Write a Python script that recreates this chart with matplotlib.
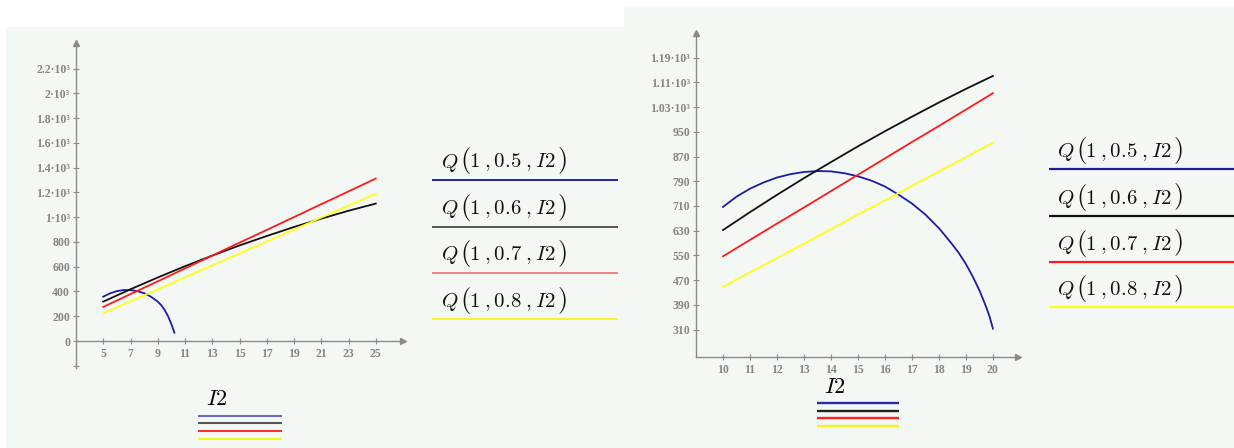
import matplotlib.pyplot as plt
import numpy as np
from matplotlib.patches import Rectangle

plt.rcParams['mathtext.fontset'] = 'cm'

W, H = 1234, 448

# left plot values
left_x = [5, 7, 9, 11, 13, 15, 17, 19, 21, 23, 25]
left_q06 = [318, 418, 513, 604, 690, 772, 848, 921, 988, 1052, 1110]
left_q07 = [275, 379, 482, 586, 690, 794, 897, 1001, 1105, 1208, 1312]
left_q08 = [224, 321, 417, 514, 610, 707, 804, 900, 997, 1093, 1190]
left_q05_x = [5.0, 5.5, 6.0, 6.5, 7.0, 7.5, 8.0, 8.5, 9.0, 9.25, 9.5, 9.75, 9.9, 10.05, 10.22]
left_q05 = [358, 385, 403, 412, 411, 403, 386, 358, 318, 290, 252, 202, 163, 122, 67]
left_yticks = [0, 200, 400, 600, 800, 1000, 1200, 1400, 1600, 1800, 2000, 2200]
left_ylabels = ['0', '200', '400', '600', '800', '1·10³', '1.2·10³', '1.4·10³',
                '1.6·10³', '1.8·10³', '2·10³', '2.2·10³']

# right plot values
right_x = [10, 11, 12, 13, 14, 15, 16, 17, 18, 19, 20]
right_q06 = [632, 690, 746, 800, 852, 903, 952, 999, 1045, 1089, 1131]
right_q07 = [547, 600, 653, 705, 758, 811, 864, 917, 969, 1022, 1075]
right_q08 = [448, 495, 541, 588, 635, 682, 728, 775, 822, 868, 915]
right_q05_x = [10, 10.5, 11, 11.5, 12, 12.5, 13, 13.5, 14, 14.5, 15, 15.5, 16,
               16.5, 17, 17.5, 18, 18.25, 18.5, 18.75, 19, 19.25, 19.5, 19.75, 19.88, 20]
right_q05 = [707, 740, 766, 786, 802, 813, 820, 823, 822, 816, 806, 792, 773,
             747, 718, 682, 638, 612, 585, 556, 522, 482, 437, 383, 351, 313]
right_yticks = [310, 390, 470, 550, 630, 710, 790, 870, 950, 1030, 1110, 1190]
right_ylabels = ['310', '390', '470', '550', '630', '710', '790', '870', '950',
                 '1.03·10³', '1.11·10³', '1.19·10³']

params = ['0.5', '0.6', '0.7', '0.8']
colors = ['#1c1ca4', '#111111', '#ff1a1a', '#ffff14']

axis_col = '#8a8a8a'
tick_col = '#858585'
bg = '#f4f8f5'

fig = plt.figure(figsize=(W / 100, H / 100), dpi=100)
fig.patch.set_facecolor('white')
renderer = fig.canvas.get_renderer()

ov = fig.add_axes([0, 0, 1, 1])
ov.set_xlim(0, W)
ov.set_ylim(H, 0)
ov.axis('off')
ov.add_patch(Rectangle((6, 27), 618, 421, color=bg, lw=0))
ov.add_patch(Rectangle((624, 7), 610, 441, color=bg, lw=0))


def make_axes(px0, py0, px1, py1):
    ax = fig.add_axes([px0 / W, 1 - py1 / H, (px1 - px0) / W, (py1 - py0) / H])
    ax.set_facecolor('none')
    for s in ['top', 'right']:
        ax.spines[s].set_visible(False)
    for s in ['left', 'bottom']:
        ax.spines[s].set_color(axis_col)
        ax.spines[s].set_linewidth(1.0)
    ax.tick_params(direction='inout', length=4.5, width=0.8, colors=axis_col,
                   labelcolor=tick_col, labelsize=8.5)
    ax.tick_params(axis='x', pad=3)
    ax.tick_params(axis='y', pad=2)
    ax.plot(0, 1, '^', color=axis_col, ms=5, transform=ax.transAxes, clip_on=False)
    return ax


# left panel
ax1 = make_axes(76, 43, 403, 368)
ax1.set_xlim(3, 27)
ax1.set_ylim(-218, 2407)
ax1.spines['bottom'].set_position(('data', 0))
ax1.plot(1, 0, '>', color=axis_col, ms=5, transform=ax1.get_yaxis_transform(), clip_on=False)
ax1.set_xticks(left_x)
ax1.set_yticks(left_yticks + [-200])
ax1.set_yticklabels(left_ylabels + [''])
ax1.plot(left_q05_x, left_q05, color=colors[0], lw=1.3)
ax1.plot(left_x, left_q06, color=colors[1], lw=1.3)
ax1.plot(left_x, left_q07, color=colors[2], lw=1.3)
ax1.plot(left_x, left_q08, color=colors[3], lw=1.3)

# right panel
ax2 = make_axes(696, 33, 1018, 357)
ax2.set_xlim(9, 20.93)
ax2.set_ylim(221, 1270)
ax2.plot(1, 0, '>', color=axis_col, ms=5, transform=ax2.transAxes, clip_on=False)
ax2.set_xticks(right_x)
ax2.set_yticks(right_yticks)
ax2.set_yticklabels(right_ylabels)
ax2.plot(right_q05_x, right_q05, color=colors[0], lw=1.3)
ax2.plot(right_x, right_q06, color=colors[1], lw=1.3)
ax2.plot(right_x, right_q07, color=colors[2], lw=1.3)
ax2.plot(right_x, right_q08, color=colors[3], lw=1.3)

for ax in (ax1, ax2):
    for lab in ax.get_xticklabels() + ax.get_yticklabels():
        lab.set_fontfamily('Liberation Serif')
        lab.set_fontweight('bold')


def draw_label(x0, base, p):
    # Q(1, p, I2) with tall brackets around the arguments
    kw = dict(va='baseline', ha='left', color='#111111')
    ov.text(x0, base, r'$Q$', fontsize=15, **kw)
    ov.text(x0 + 19, base, r'$($', fontsize=19, **kw)
    inner = ov.text(x0 + 28, base, r'$1\;,%s\;,I2$' % p, fontsize=15, **kw)
    right_px = inner.get_window_extent(renderer=renderer).x1
    ov.text(right_px + 1.5, base, r'$)$', fontsize=19, **kw)


# legends beside the plots
left_leg_y = [180, 226.7, 272.7, 319.3]
left_leg_cols = ['#2424a8', '#555555', '#f08080', '#f5f52a']
for yy, p, c in zip(left_leg_y, params, left_leg_cols):
    ov.plot([432, 618], [yy, yy], color=c, lw=1.4, solid_capstyle='butt')
    draw_label(441, yy - 12.5, p)

right_leg_y = [169.3, 215.7, 261.7, 307.3]
for yy, p, c in zip(right_leg_y, params, colors):
    ov.plot([1049, 1234], [yy, yy], color=c, lw=1.6, solid_capstyle='butt')
    draw_label(1057, yy - 12, p)

# I2 keys under the plots
ov.text(217, 405, r'$I2$', fontsize=16, ha='center', va='baseline')
for yy, c in zip([415.7, 423.3, 431, 439], ['#6a6ac4', '#555555', '#ff3030', '#f5f520']):
    ov.plot([198, 282], [yy, yy], color=c, lw=1.5, solid_capstyle='butt')

ov.text(835, 393, r'$I2$', fontsize=16, ha='center', va='baseline')
for yy, c in zip([402.7, 410.7, 418.3, 426.3], ['#2a2aa8', '#222222', '#ff2020', '#f5f520']):
    ov.plot([817, 899], [yy, yy], color=c, lw=1.7, solid_capstyle='butt')

fig.savefig('out.png', dpi=100)
